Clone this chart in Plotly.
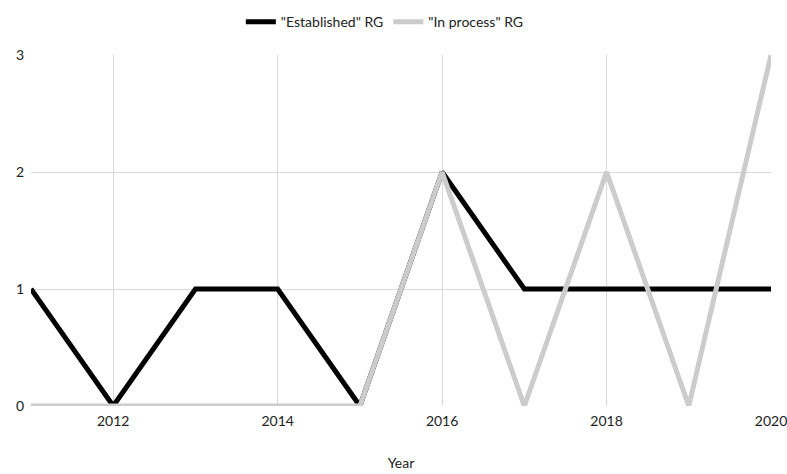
import plotly.graph_objects as go

years = [2011, 2012, 2013, 2014, 2015, 2016, 2017, 2018, 2019, 2020]
established = [1, 0, 1, 1, 0, 2, 1, 1, 1, 1]
in_process = [0, 0, 0, 0, 0, 2, 0, 2, 0, 3]

fig = go.Figure()
fig.add_trace(go.Scatter(x=years, y=established, mode="lines", name='"Established" RG',
                         line=dict(color="#000000", width=5)))
fig.add_trace(go.Scatter(x=years, y=in_process, mode="lines", name='"In process" RG',
                         line=dict(color="#CCCCCC", width=5)))

font = "Lato, Open Sans, sans-serif"
fig.update_layout(
    width=787, height=474,
    margin=dict(l=31, r=16, t=55, b=68, autoexpand=False),
    paper_bgcolor="white", plot_bgcolor="white",
    font=dict(family=font, size=14, color="#222222"),
    legend=dict(orientation="h", x=0.489, xanchor="center", y=0.987, yanchor="top",
                xref="container", yref="container", font=dict(size=14), itemwidth=30),
    showlegend=True,
)
fig.update_xaxes(range=[2011, 2020], dtick=2, tick0=2012, showgrid=True, gridcolor="#D9D9D9",
                 gridwidth=1, zeroline=False, showline=False, ticks="", automargin=False,
                 ticklabeloverflow="allow", ticklabelstandoff=5,
                 title=dict(text="Year", font=dict(size=14), standoff=30))
fig.update_yaxes(range=[0, 3], dtick=1, showgrid=True, gridcolor="#D9D9D9", gridwidth=1,
                 zeroline=False, showline=False, ticks="", ticklabelstandoff=6, automargin=False)
fig.write_html("out.html", config={"displayModeBar": False},
               post_script="document.body.style.margin='0';document.body.style.overflow='hidden';")
